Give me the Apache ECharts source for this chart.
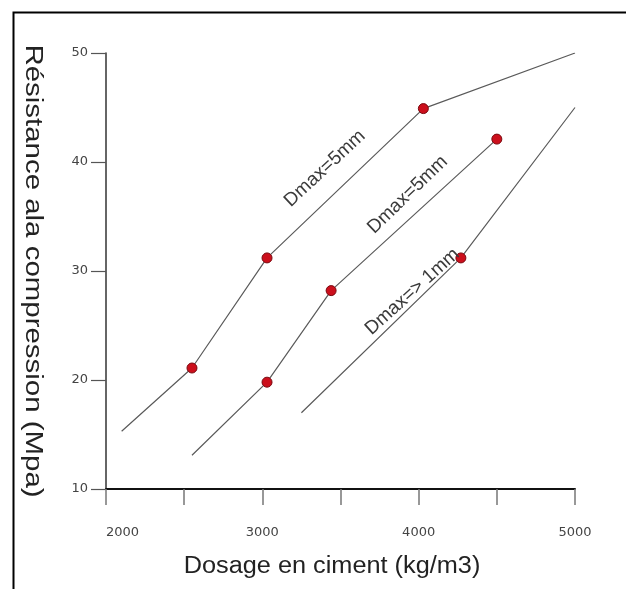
<!DOCTYPE html>
<html>
<head>
    <meta charset="utf-8">
    <title>Résistance ala compression</title>
    <script src="https://cdn.jsdelivr.net/npm/echarts@6/dist/echarts.min.js"></script>
</head>
<body style="margin:0;background:#fff">
    <div id="main" style="width:626px;height:589px;"></div>
    <script type="text/javascript">
        // axis ticks
        var xTicks = [2000, 3000, 4000, 5000];
        var yTicks = [10, 20, 30, 40, 50];

        // each curve: [dosage, resistance]; the ends of the lines carry no marker
        var curveA = [[2100, 15.3], [2550, 21.1], [3030, 31.2], [4030, 44.9], [5000, 50]];
        var curveB = [[2550, 13.1], [3030, 19.8], [3440, 28.2], [4500, 42.1]];
        var curveC = [[3250, 17.0], [4270, 31.2], [5000, 45.0]];
        var markA = [1, 2, 3];
        var markB = [1, 2, 3];
        var markC = [1];

        // labels written along the curves
        var curveLabels = ['Dmax=5mm', 'Dmax=5mm', 'Dmax=> 1mm'];
        var labelPos = [[3400, 39.4], [3930, 37.0], [3960, 28.1]];
        var labelAngle = [43, 44, 42];

        var xTitle = 'Dosage en ciment (kg/m3)';
        var yTitle = 'Résistance ala compression (Mpa)';

        var myChart = echarts.init(document.getElementById('main'));

        function curveSeries(pts, marks, txt, pos, ang) {
            return {
                type: 'line',
                data: pts.map(function (p, i) {
                    return {
                        value: p,
                        symbolSize: marks.indexOf(i) >= 0 ? 10 : 0
                    };
                }),
                symbol: 'circle',
                showAllSymbol: true,
                lineStyle: { color: '#5a5a5a', width: 1.2 },
                itemStyle: { color: '#cc0f1c', borderColor: '#7a0a10', borderWidth: 1 },
                animation: false,
                z: 3,
                markPoint: {
                    symbol: 'circle',
                    symbolSize: 0,
                    silent: true,
                    animation: false,
                    label: {
                        show: true,
                        position: 'inside',
                        rotate: ang,
                        formatter: txt,
                        color: '#3a3a3a',
                        fontFamily: 'Liberation Sans, Arial',
                        fontSize: 19
                    },
                    data: [{ coord: pos }]
                }
            };
        }

        var option = {
            backgroundColor: '#fff',
            animation: false,
            grid: { left: 106, right: 51, top: 53, bottom: 100, containLabel: false },
            graphic: [{
                type: 'rect',
                left: 11,
                top: 10,
                shape: { width: 700, height: 700 },
                style: { fill: null, stroke: '#000', lineWidth: 2 },
                silent: true
            }, {
                // axis titles are a bit stretched along their length in the original
                type: 'text',
                x: 332,
                y: 567,
                scaleX: 1.1,
                style: {
                    text: xTitle,
                    align: 'center',
                    verticalAlign: 'middle',
                    fontFamily: 'Liberation Sans, Arial',
                    fontSize: 23,
                    fill: '#222'
                },
                silent: true
            }, {
                type: 'text',
                x: 32,
                y: 271,
                rotation: -Math.PI / 2,
                scaleX: 1.28,
                style: {
                    text: yTitle,
                    align: 'center',
                    verticalAlign: 'middle',
                    fontFamily: 'Liberation Sans, Arial',
                    fontSize: 23,
                    fill: '#222'
                },
                silent: true
            }],
            xAxis: {
                type: 'value',
                min: 2000,
                max: 5000,
                interval: 500,
                axisLine: { lineStyle: { color: '#111', width: 2 } },
                axisTick: { show: true, length: 16, lineStyle: { color: '#777', width: 1.5 } },
                axisLabel: {
                    margin: 37,
                    fontFamily: 'DejaVu Sans',
                    fontSize: 13,
                    color: '#444',
                    alignMinLabel: 'left',
                    formatter: function (v) { return xTicks.indexOf(v) >= 0 ? String(v) : ''; }
                },
                splitLine: { show: false }
            },
            yAxis: {
                type: 'value',
                min: 10,
                max: 50,
                interval: 10,
                axisLine: { show: true, lineStyle: { color: '#333', width: 1.5 } },
                axisTick: { show: true, length: 15, lineStyle: { color: '#555', width: 1.2 } },
                axisLabel: {
                    margin: 18,
                    fontFamily: 'DejaVu Sans',
                    fontSize: 13,
                    color: '#444',
                    formatter: function (v) { return yTicks.indexOf(v) >= 0 ? String(v) : ''; }
                },
                splitLine: { show: false }
            },
            series: [
                curveSeries(curveA, markA, curveLabels[0], labelPos[0], labelAngle[0]),
                curveSeries(curveB, markB, curveLabels[1], labelPos[1], labelAngle[1]),
                curveSeries(curveC, markC, curveLabels[2], labelPos[2], labelAngle[2])
            ]
        };

        myChart.setOption(option);
    </script>
</body>
</html>
